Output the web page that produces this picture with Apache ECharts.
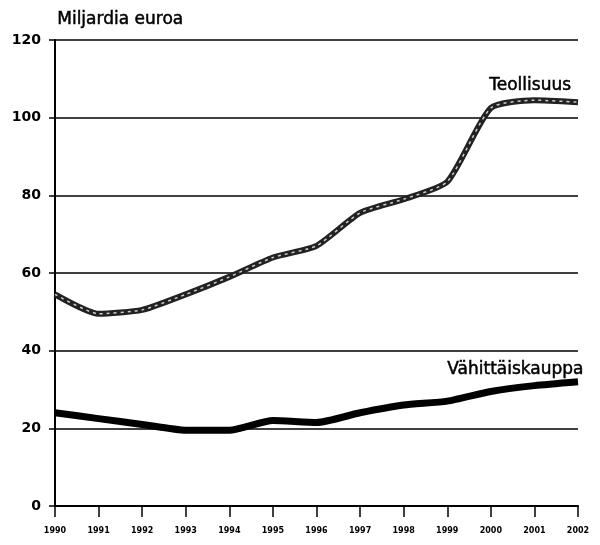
<!DOCTYPE html>
<html>
<head>
<meta charset="utf-8">
<script src="https://cdn.jsdelivr.net/npm/echarts@6/dist/echarts.min.js"></script>
<style>
  html, body { margin: 0; padding: 0; background: #fff; }
  #chart { width: 600px; height: 545px; }
</style>
</head>
<body>
<div id="chart"></div>
<script>
const years = ["1990", "1991", "1992", "1993", "1994", "1995", "1996",
  "1997", "1998", "1999", "2000", "2001", "2002"];
const teollisuus = [54.5, 49.5, 50.5, 54.5, 59, 64, 67, 75.5, 79, 83.5, 102.5, 104.5, 104];
const vahittais = [24, 22.5, 21, 19.5, 19.5, 22, 21.5, 24, 26, 27, 29.5, 31, 32];

const chart = echarts.init(document.getElementById("chart"));

const labelFont = "DejaVu Sans";
// a thin outline makes the labels look as heavy as the printed ones
const heavy = { fontSize: 17, fontFamily: labelFont, fill: "#000", stroke: "#000", lineWidth: 0.5 };

const options = {
  animation: false,
  grid: { left: 55, right: 22, top: 40, bottom: 39 },
  xAxis: {
    type: "category",
    data: years,
    boundaryGap: false,
    axisLine: { lineStyle: { color: "#000", width: 2 } },
    axisTick: { show: true, length: 11, lineStyle: { color: "#000", width: 1.5 } },
    axisLabel: {
      color: "#000", fontSize: 8, fontWeight: "bold",
      fontFamily: labelFont, margin: 21
    },
  },
  yAxis: {
    type: "value",
    min: 0,
    max: 120,
    interval: 20,
    axisLine: { show: true, lineStyle: { color: "#000", width: 2 } },
    axisTick: { show: true, length: 6, lineStyle: { color: "#000", width: 1.5 } },
    axisLabel: {
      color: "#000", fontSize: 14, fontWeight: "bold",
      fontFamily: labelFont, margin: 14
    },
    splitLine: { lineStyle: { color: "#000", width: 1.5 } },
  },
  graphic: [
    { type: "text", left: 57, top: 11, style: Object.assign({ text: "Miljardia euroa" }, heavy) },
    { type: "text", left: 489, top: 77, style: Object.assign({ text: "Teollisuus" }, heavy) },
    { type: "text", left: 447, top: 361, style: Object.assign({ text: "Vähittäiskauppa" }, heavy) },
  ],
  series: [
    {
      type: "line",
      data: teollisuus,
      smooth: 0.2,
      showSymbol: false,
      lineStyle: { color: "#222", width: 6 },
      z: 3,
    },
    {
      type: "line",
      data: teollisuus,
      smooth: 0.2,
      showSymbol: false,
      lineStyle: { color: "#ccc", width: 1.5, type: [3, 4] },
      z: 4,
    },
    {
      type: "line",
      data: vahittais,
      smooth: 0.2,
      showSymbol: false,
      lineStyle: { color: "#000", width: 7 },
      z: 3,
    },
  ],
};

chart.setOption(options);
</script>
</body>
</html>
